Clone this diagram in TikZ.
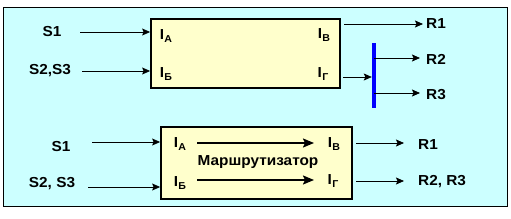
\documentclass[tikz,border=0pt]{standalone}
\usepackage{fontspec}
\setmainfont[FakeStretch=1.06]{Liberation Sans}
\usepackage{xcolor}
\usetikzlibrary{positioning,arrows.meta}
\definecolor{skycyan}{HTML}{CCFFFF}
\definecolor{paleyel}{HTML}{FFFFCC}
\definecolor{busblue}{HTML}{0000FF}
\newcommand{\portI}[1]{I\kern.3pt\raisebox{-2.5pt}{\fontsize{10}{10}\selectfont\bfseries #1}}
\tikzset{
  frm/.style={draw=black, fill=skycyan, line width=0.8pt},
  rbox/.style={rectangle, draw=black, fill=paleyel, line width=1.8pt, inner sep=0pt},
  txt/.style={font=\fontsize{14.5}{16}\selectfont\bfseries, inner sep=0pt},
  port/.style={font=\fontsize{14.5}{16}\selectfont\bfseries, inner sep=0pt},
  ar/.style={-{Stealth[length=8pt,width=7pt,inset=1.5pt]}, line width=0.8pt},
  arb/.style={-{Stealth[length=11pt,width=9pt,inset=2pt]}, line width=1.8pt},
  busbar/.style={rectangle, fill=busblue, inner sep=0pt, minimum width=4pt, minimum height=65pt},
}
\begin{document}
\begin{tikzpicture}[x=1pt,y=-1pt]
  \useasboundingbox (0,0) rectangle (511,219);
  \path[frm] (3,7) rectangle (507,206);

  % upper scheme
  \node[rbox, minimum width=189pt, minimum height=69pt] (tbox) at (245.5,53.5) {};
  \node[port] (ta) at (166,36) {\portI{А}};
  \node[port] (tb) at (166,74) {\portI{Б}};
  \node[port] (tv) at (324,35) {\portI{В}};
  \node[port] (tg) at (323,74) {\portI{Г}};
  \node[busbar] (bus) at (374,75.5) {};

  \node[txt] (s1) at (52,32) {S1};
  \node[txt] (s23) at (50,71) {S2,S3};
  \node[txt, anchor=west] (r1) at (426,24) {R1};
  \node[txt, anchor=west] (r2) at (426,59) {R2};
  \node[txt, anchor=west] (r3) at (426,95) {R3};

  \coordinate (s1s) at (80,32);
  \coordinate (s23s) at (82,71);
  \coordinate (r1s) at (344,24);
  \coordinate (r1e) at (423,24);
  \coordinate (tgs) at (343,77);
  \coordinate (r2e) at (420,58);
  \coordinate (r3e) at (420,93);
  \draw[ar] (s1s) -- (s1s -| tbox.west);
  \draw[ar] (s23s) -- (s23s -| tbox.west);
  \draw[ar] (r1s) -- (r1e);
  \draw[ar] (tgs) -- (tgs -| bus.west);
  \draw[ar] (bus.center |- r2e) -- (r2e);
  \draw[ar] (bus.center |- r3e) -- (r3e);

  % lower scheme
  \node[rbox, minimum width=191pt, minimum height=72pt] (bbox) at (256.5,163) {};
  \node[port] (ba) at (180,144) {\portI{А}};
  \node[port] (bb) at (180,183) {\portI{Б}};
  \node[port] (bv) at (334,144) {\portI{В}};
  \node[port] (bg) at (333,181) {\portI{Г}};
  \node[txt] (rt) at (258,162) {Маршрутизатор};

  \node[txt] (bs1) at (61,147) {S1};
  \node[txt] (bs23) at (52,184) {S2, S3};
  \node[txt, anchor=west] (br1) at (418,145) {R1};
  \node[txt, anchor=west] (br23) at (418,182) {R2, R3};

  \coordinate (bs1s) at (92,142);
  \coordinate (bs23s) at (88,187);
  \coordinate (bas) at (197,143);
  \coordinate (bbs) at (197,180);
  \coordinate (bve) at (314,143);
  \coordinate (bge) at (314,180);
  \coordinate (br1s) at (356,143);
  \coordinate (br1e) at (404,143);
  \coordinate (br23s) at (356,181);
  \coordinate (br23e) at (404,181);
  \draw[ar] (bs1s) -- (bs1s -| bbox.west);
  \draw[ar] (bs23s) -- (bs23s -| bbox.west);
  \draw[arb] (bas) -- (bve);
  \draw[arb] (bbs) -- (bge);
  \draw[ar] (br1s) -- (br1e);
  \draw[ar] (br23s) -- (br23e);
\end{tikzpicture}
\end{document}
